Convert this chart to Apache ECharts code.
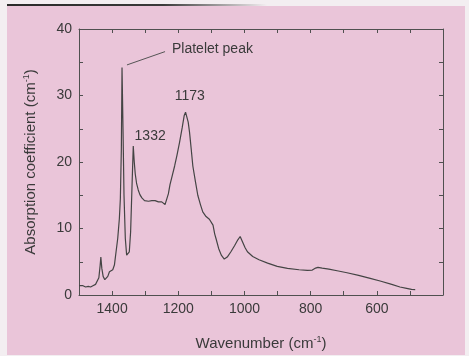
<!DOCTYPE html>
<html>
<head>
<meta charset="utf-8">
<script src="https://cdn.jsdelivr.net/npm/echarts@6/dist/echarts.min.js"></script>
<style>
html,body{margin:0;padding:0;background:#f3eef1;}
#c{width:469px;height:356px;}
</style>
</head>
<body>
<div id="c"></div>
<script>
var wavenumbers = [1500,1495,1488,1480,1472,1465,1458,1450,1445,1440,1436,1434,1431,1427,1422,1418,1413,1408,1403,1398,1393,1388,1383,1378,1375,1372,1370,1367,1364,1360,1356,1352,1348,1344,1340,1336,1333,1330,1326,1321,1316,1310,1302,1290,1280,1270,1260,1250,1240,1235,1230,1225,1218,1211,1204,1196,1188,1182,1178,1174,1170,1166,1161,1156,1148,1141,1133,1126,1116,1106,1100,1095,1090,1086,1078,1070,1061,1052,1041,1030,1020,1013,1006,998,991,975,956,930,901,870,835,810,795,785,778,765,745,720,690,655,620,590,555,530,510,495,484];
var absorption = [1.4,1.2,1.4,1.2,1.3,1.2,1.4,1.6,1.8,2.6,4.5,5.7,4.0,2.8,2.3,2.2,2.8,3.5,3.7,3.8,4.5,6.5,8.5,11.5,14.5,22,34.2,25,15,8.5,6.0,5.7,6.5,9.5,16,22.4,20,18.2,16.8,15.8,15.1,14.6,14.2,14.1,14.2,14.2,14.0,14.0,13.6,13.7,15.2,16.6,18.0,19.4,21.0,23.0,25.2,27.0,27.5,27.2,26.0,24.5,22.0,19.4,17.0,15.0,13.6,12.5,11.8,11.4,11.3,10.5,9.2,8.5,7.0,6.0,5.4,5.7,6.5,7.4,8.3,8.8,8.0,7.1,6.5,5.8,5.3,4.8,4.3,4.0,3.8,3.7,3.75,4.05,4.15,4.05,3.9,3.65,3.35,2.95,2.5,2.1,1.6,1.2,1.0,0.85,0.8];
var xTicks = [600,800,1000,1200,1400];
var yTicks = [0,10,20,30,40];
var annotations = [
  {text:'Platelet peak', w:1219, y:37.0, align:'left'},
  {text:'1332', w:1285, y:23.9, align:'center'},
  {text:'1173', w:1165, y:29.85, align:'center'}
];
var leader = [[1355,34.6],[1240,36.6]];

var data = wavenumbers.map(function(w,i){return [w, absorption[i]];});
var chart = echarts.init(document.getElementById('c'), null, {renderer:'canvas'});
var axisColor = '#505050';
var textColor = '#3a3a3a';
var font = 'Liberation Sans, Arial, sans-serif';

function xAxisBase(pos, show){
  return {
    type:'value', position:pos, inverse:true, min:400, max:1500, interval:200,
    axisLine:{show:true, onZero:false, lineStyle:{color:axisColor,width:1}},
    axisTick:{show:true, inside:true, length:4, lineStyle:{color:axisColor}},
    minorTick:{show:true, splitNumber:2, length:4, lineStyle:{color:axisColor}},
    splitLine:{show:false},
    axisLabel:{show:show, margin:7, color:textColor, fontSize:14, fontFamily:font,
      formatter:function(v){return xTicks.indexOf(v)>=0 ? String(v) : '';}}
  };
}
function yAxisBase(pos, show){
  return {
    type:'value', position:pos, min:0, max:40, interval:10,
    axisLine:{show:true, onZero:false, lineStyle:{color:axisColor,width:1}},
    axisTick:{show:true, inside:true, length:4, lineStyle:{color:axisColor}},
    minorTick:{show:true, splitNumber:2, length:4, lineStyle:{color:axisColor}},
    splitLine:{show:false},
    axisLabel:{show:show, margin:7, color:textColor, fontSize:14, fontFamily:font,
      formatter:function(v){return yTicks.indexOf(v)>=0 ? String(v) : '';}}
  };
}

var xb = xAxisBase('bottom', true);
xb.name = '{a|Wavenumber (cm}{s|-1}{a|)}';
xb.nameLocation = 'middle';
xb.nameGap = 40;
xb.nameTextStyle = {rich:{
  a:{fontSize:15, color:textColor, fontFamily:font},
  s:{fontSize:9, color:textColor, fontFamily:font, verticalAlign:'top', padding:[0,0,8,0]}
}};
var xt = xAxisBase('top', false);
var yl = yAxisBase('left', true);
yl.name = '{a|Absorption coefficient (cm}{s|-1}{a|)}';
yl.nameLocation = 'middle';
yl.nameGap = 40;
yl.nameTextStyle = {rich:{
  a:{fontSize:15, color:textColor, fontFamily:font},
  s:{fontSize:9, color:textColor, fontFamily:font, verticalAlign:'top', padding:[0,0,8,0]}
}};
var yr = yAxisBase('right', false);

chart.setOption({
  backgroundColor:'#f3eef1',
  animation:false,
  graphic:[
    {type:'rect', z:-10, shape:{x:7,y:6,width:458,height:349}, style:{fill:'#eac5d9'}},
    {type:'rect', z:-9, shape:{x:7,y:4,width:260,height:2},
      style:{fill:new echarts.graphic.LinearGradient(0,0,1,0,[{offset:0,color:'#2a2a2a'},{offset:0.6,color:'#3a3a3a'},{offset:1,color:'rgba(60,60,60,0)'}])}}
  ],
  grid:{left:79, right:26, top:29, bottom:59, containLabel:false},
  xAxis:[xb, xt],
  yAxis:[yl, yr],
  series:[{
    type:'line', data:data, xAxisIndex:0, yAxisIndex:0,
    showSymbol:false, symbol:'none', smooth:false,
    lineStyle:{color:'#444444', width:1.2},
    markLine:{
      silent:true, symbol:['none','none'],
      lineStyle:{color:'#555', width:1, type:'solid'},
      label:{show:false},
      data:[[{coord:leader[0]},{coord:leader[1]}]]
    },
    markPoint:{
      silent:true, symbol:'circle', symbolSize:0,
      data:annotations.map(function(a){
        return {coord:[a.w,a.y], value:a.text,
          label:{show:true, position:'inside', formatter:a.text, align:a.align, verticalAlign:'middle',
            color:textColor, fontSize:14, fontFamily:font}};
      })
    }
  }]
});
</script>
</body>
</html>
